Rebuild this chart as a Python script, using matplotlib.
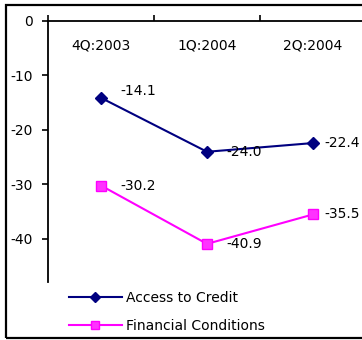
import matplotlib
matplotlib.use("Agg")
import matplotlib.pyplot as plt
from matplotlib.patches import Rectangle

# survey balances by quarter
quarters = ["4Q:2003", "1Q:2004", "2Q:2004"]
access_credit = [-14.1, -24.0, -22.4]
fin_conditions = [-30.2, -40.9, -35.5]

plt.rcParams["font.family"] = ["DejaVu Sans"]
plt.rcParams["font.size"] = 10

fig = plt.figure(figsize=(3.62, 3.40), dpi=100)
W, H = 362, 340

# outer chart border (right side runs off the edge)
fig.patches.append(Rectangle((6 / W, 1 - 338 / H), 400 / W, (338 - 5) / H,
                             transform=fig.transFigure, fill=False,
                             edgecolor="black", linewidth=1.6))

ax = fig.add_axes([48 / W, 1 - 282 / H, 318 / W, (282 - 21) / H])
ax.patch.set_alpha(0)

x = list(range(len(quarters)))
l1, = ax.plot(x, access_credit, color="#000080", lw=1.5, marker="D", ms=6,
              mfc="#000080", mec="#000080", clip_on=False)
l2, = ax.plot(x, fin_conditions, color="#ff00ff", lw=1.5, marker="s", ms=7,
              mfc="#ff33ff", mec="#ff00ff", clip_on=False)

# value labels to the right of each point
dx = [14, 14, 8]
for vals, dys in ((access_credit, [5, 0, 0]), (fin_conditions, [0, 0, 0])):
    for i, v in enumerate(vals):
        ax.annotate(f"{v:.1f}", (i, v), xytext=(dx[i], dys[i]),
                    textcoords="offset points", ha="left", va="center",
                    fontsize=10, annotation_clip=False)

ax.set_xlim(-0.5, 2.5)
ax.set_ylim(-47.9, 0)
ax.set_yticks([0, -10, -20, -30, -40])
ax.set_yticklabels(["0", "-10", "-20", "-30", "-40"])

for s in ("right", "bottom"):
    ax.spines[s].set_visible(False)
for s in ("left", "top"):
    ax.spines[s].set_linewidth(1.3)

ax.xaxis.set_ticks_position("top")
ax.set_xticks([-0.5, 0.5, 1.5, 2.5])
ax.set_xticklabels([])
ax.set_xticks(x, minor=True)
ax.set_xticklabels(quarters, minor=True)
ax.tick_params(axis="x", which="major", direction="out", length=4, width=1.2)
ax.tick_params(axis="x", which="minor", length=0, labeltop=True, pad=-23)
ax.tick_params(axis="y", direction="out", length=4, width=1.2, pad=7)

fig.legend([l1, l2], ["Access to Credit", "Financial Conditions"],
           loc="upper left", bbox_to_anchor=(69 / W, 1 - 291 / H),
           frameon=False, borderpad=0, borderaxespad=0, handlelength=3.8,
           handletextpad=0.3, labelspacing=1.0, fontsize=10,
           markerscale=0.8)

fig.savefig("out.png", dpi=100)
